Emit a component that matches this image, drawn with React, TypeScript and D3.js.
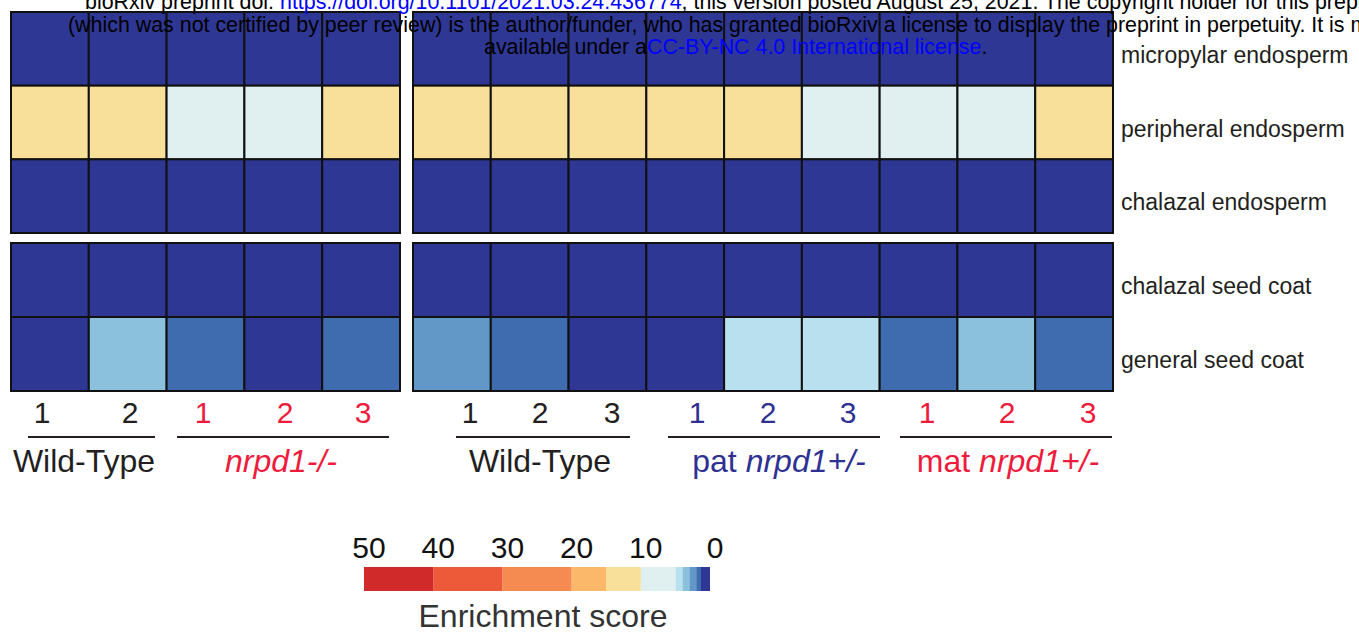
import React from "react";
import * as d3 from "d3";

// ---------- data ----------
const rowNames = [
  "micropylar endosperm",
  "peripheral endosperm",
  "chalazal endosperm",
  "chalazal seed coat",
  "general seed coat",
];
const topRows = rowNames.slice(0, 3);
const bottomRows = rowNames.slice(3);

const leftColumns = ["WT 1", "WT 2", "nrpd1 1", "nrpd1 2", "nrpd1 3"];
const rightColumns = ["WT 1", "WT 2", "WT 3", "pat 1", "pat 2", "pat 3", "mat 1", "mat 2", "mat 3"];

// enrichment scores, one row per tissue
const leftScores = [
  [0.5, 0.5, 0.5, 0.5, 0.5],
  [12, 12, 7, 7, 12],
  [0.5, 0.5, 0.5, 0.5, 0.5],
  [0.5, 0.5, 0.5, 0.5, 0.5],
  [0.5, 3.5, 1.6, 0.5, 1.6],
];
const rightScores = [
  [0.5, 0.5, 0.5, 0.5, 0.5, 0.5, 0.5, 0.5, 0.5],
  [12, 12, 12, 12, 12, 7, 7, 7, 12],
  [0.5, 0.5, 0.5, 0.5, 0.5, 0.5, 0.5, 0.5, 0.5],
  [0.5, 0.5, 0.5, 0.5, 0.5, 0.5, 0.5, 0.5, 0.5],
  [2.5, 1.6, 0.5, 0.5, 4.5, 4.5, 1.6, 3.5, 1.6],
];

const scoreBreaks = [1.3, 2, 3, 4, 5, 10, 15, 20, 30, 40];
const scoreColors = [
  "#2f3795", "#3e6caf", "#6298c7", "#8cc1dd", "#b8e0ee", "#e0f0f0",
  "#f9e09a", "#fbb86b", "#f68b52", "#ec5a3a", "#d12a2a",
];
const legendTicks = [50, 40, 30, 20, 10, 0];

const leftColLabels = ["1", "2", "1", "2", "3"];
const rightColLabels = ["1", "2", "3", "1", "2", "3", "1", "2", "3"];

const BLACK = "#231f20";
const RED = "#ee1c3c";
const BLUE = "#2e3192";

const leftColColors = [BLACK, BLACK, RED, RED, RED];
const rightColColors = [BLACK, BLACK, BLACK, BLUE, BLUE, BLUE, RED, RED, RED];

// ---------- layout ----------
const leftLabelX = [42, 130, 203, 285, 363];
const rightLabelX = [470, 540, 612, 697, 768, 848, 927, 1007, 1088];

type Group = { parts: { t: string; italic: boolean }[]; color: string; x0: number; x1: number; cx: number };
const groups: Group[] = [
  { parts: [{ t: "Wild-Type", italic: false }], color: BLACK, x0: 28, x1: 155, cx: 84 },
  { parts: [{ t: "nrpd1-/-", italic: true }], color: RED, x0: 177, x1: 389, cx: 281 },
  { parts: [{ t: "Wild-Type", italic: false }], color: BLACK, x0: 456, x1: 630, cx: 540 },
  { parts: [{ t: "pat ", italic: false }, { t: "nrpd1+/-", italic: true }], color: BLUE, x0: 668, x1: 880, cx: 779 },
  { parts: [{ t: "mat ", italic: false }, { t: "nrpd1+/-", italic: true }], color: RED, x0: 900, x1: 1112, cx: 1008 },
];

const FONT = "'Liberation Sans', Arial, Helvetica, sans-serif";

export default function App() {
  const color = d3.scaleThreshold<number, string>().domain(scoreBreaks).range(scoreColors);

  const xLeft = d3.scaleBand<string>().domain(leftColumns).range([11, 400]);
  const xRight = d3.scaleBand<string>().domain(rightColumns).range([413, 1113]);
  const yTop = d3.scaleBand<string>().domain(topRows).range([12, 233]);
  const yBottom = d3.scaleBand<string>().domain(bottomRows).range([243, 391]);

  const yFor = (r: string) => (topRows.includes(r) ? yTop : yBottom);

  const cells: JSX.Element[] = [];
  rowNames.forEach((r, ri) => {
    const ys = yFor(r);
    leftColumns.forEach((c, ci) => {
      cells.push(
        <rect key={`l-${ri}-${ci}`} x={xLeft(c)} y={ys(r)} width={xLeft.bandwidth()} height={ys.bandwidth()}
          fill={color(leftScores[ri][ci])} stroke="#111" strokeWidth={2} />
      );
    });
    rightColumns.forEach((c, ci) => {
      cells.push(
        <rect key={`r-${ri}-${ci}`} x={xRight(c)} y={ys(r)} width={xRight.bandwidth()} height={ys.bandwidth()}
          fill={color(rightScores[ri][ci])} stroke="#111" strokeWidth={2} />
      );
    });
  });

  // legend
  const lx = d3.scaleLinear().domain([50, 0]).range([364, 710]);
  const edges = [0, ...scoreBreaks, 50];
  const legendSegs = edges.slice(0, -1).map((a, i) => ({ a, b: edges[i + 1] }));

  return (
    <svg width={1359} height={637} style={{ position: "absolute", left: 0, top: 0, background: "#fff" }} fontFamily={FONT}>
      <rect x={0} y={0} width={1359} height={637} fill="#fff" />
      {cells}
      {/* block outlines */}
      {[yTop, yBottom].map((ys, i) => (
        <g key={i}>
          <rect x={11} y={ys.range()[0]} width={389} height={ys.range()[1] - ys.range()[0]} fill="none" stroke="#111" strokeWidth={2} />
          <rect x={413} y={ys.range()[0]} width={700} height={ys.range()[1] - ys.range()[0]} fill="none" stroke="#111" strokeWidth={2} />
        </g>
      ))}

      {/* row labels */}
      {rowNames.map((r) => {
        const ys = yFor(r);
        return (
          <text key={r} x={1121} y={(ys(r) as number) + ys.bandwidth() / 2 + 14} fontSize={23} fill={BLACK}>
            {r}
          </text>
        );
      })}

      {/* column labels */}
      {leftColLabels.map((t, i) => (
        <text key={`lc${i}`} x={leftLabelX[i]} y={423} fontSize={30} textAnchor="middle" fill={leftColColors[i]}>{t}</text>
      ))}
      {rightColLabels.map((t, i) => (
        <text key={`rc${i}`} x={rightLabelX[i]} y={423} fontSize={30} textAnchor="middle" fill={rightColColors[i]}>{t}</text>
      ))}

      {/* group underlines and labels */}
      {groups.map((g, i) => (
        <g key={`g${i}`}>
          <line x1={g.x0} x2={g.x1} y1={437} y2={437} stroke="#231f20" strokeWidth={2} />
          <text x={g.cx} y={472} fontSize={32} textAnchor="middle" fill={g.color}>
            {g.parts.map((p, j) => (
              <tspan key={j} fontStyle={p.italic ? "italic" : "normal"}>{p.t}</tspan>
            ))}
          </text>
        </g>
      ))}

      {/* legend */}
      {legendSegs.map((s, i) => (
        <rect key={`ls${i}`} x={lx(s.b)} y={567} width={lx(s.a) - lx(s.b)} height={24} fill={color((s.a + s.b) / 2)} />
      ))}
      {legendTicks.map((v) => (
        <text key={`lt${v}`} x={lx(v) + 5} y={558} fontSize={30} textAnchor="middle" fill="#111">{v}</text>
      ))}
      <text x={543} y={627} fontSize={32} textAnchor="middle" fill="#333">Enrichment score</text>

      {/* bioRxiv watermark */}
      <g fontSize={21.4} fill="#000">
        <text x={85} y={9}>
          bioRxiv preprint doi: <tspan fill="#0000ff">https://doi.org/10.1101/2021.03.24.436774</tspan>; this version posted August 25, 2021. The copyright holder for this preprint
        </text>
        <text x={68} y={32}>
          (which was not certified by peer review) is the author/funder, who has granted bioRxiv a license to display the preprint in perpetuity. It is made
        </text>
        <text x={484} y={54}>
          available under a<tspan fill="#0000ff">CC-BY-NC 4.0 International license</tspan>.
        </text>
      </g>
    </svg>
  );
}
